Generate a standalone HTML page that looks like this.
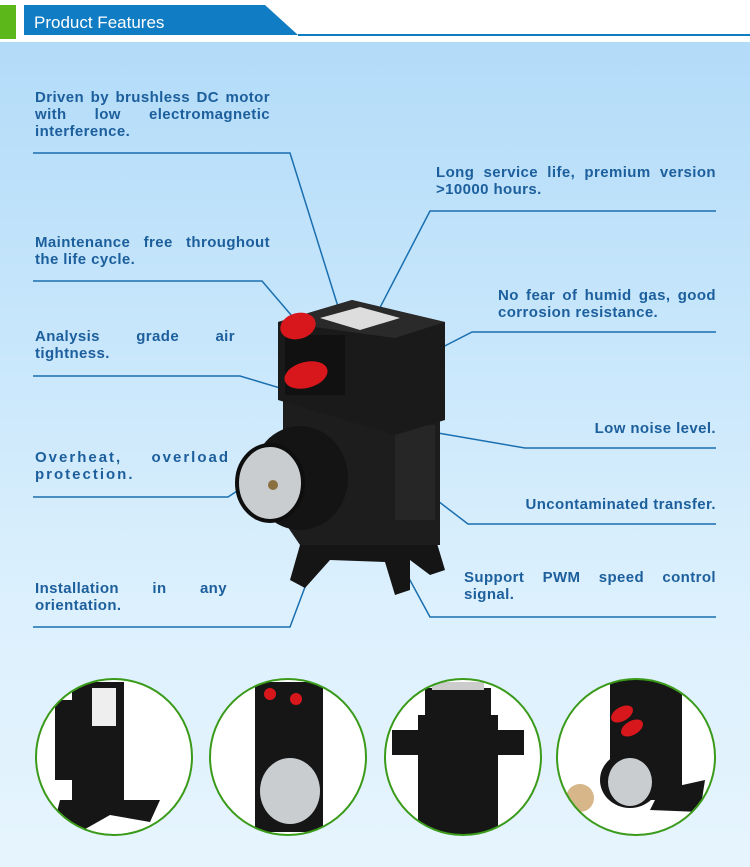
<!DOCTYPE html>
<html><head><meta charset="utf-8"><style>
body{margin:0;width:750px;height:867px;overflow:hidden;position:relative;font-family:"Liberation Sans",sans-serif;
background:linear-gradient(180deg,#b0daf8 0px,#c5e5fb 300px,#dcf0fd 600px,#e6f4fd 867px);}
.t{position:absolute;color:#1c5f9c;font-weight:bold;font-size:15px;line-height:17px;letter-spacing:0.4px;text-align:justify;text-align-last:left}
.r{text-align:right;text-align-last:right}
svg{position:absolute;left:0;top:0}
</style></head><body>
<svg width="750" height="867">
<defs>
<clipPath id="c1"><ellipse cx="114" cy="757" rx="78" ry="78"/></clipPath>
<clipPath id="c2"><ellipse cx="288" cy="757" rx="78" ry="78"/></clipPath>
<clipPath id="c3"><ellipse cx="463" cy="757" rx="78" ry="78"/></clipPath>
<clipPath id="c4"><ellipse cx="636" cy="757" rx="79" ry="78"/></clipPath>
</defs>
<rect x="0" y="0" width="750" height="42" fill="#fff"/>
<rect x="0" y="5" width="16" height="34" fill="#5cb81a"/>
<polygon points="24,5 265,5 298,35 24,35" fill="#0f7cc4"/>
<line x1="298" y1="35" x2="750" y2="35" stroke="#0f7cc4" stroke-width="2"/>
<g stroke="#1a6fb0" stroke-width="1.5" fill="none">
<polyline points="33,153 290,153 340,313"/>
<polyline points="33,281 262,281 315,343"/>
<polyline points="33,376 240,376 310,397"/>
<polyline points="33,497 228,497 310,443"/>
<polyline points="33,627 290,627 332,515"/>
<polyline points="716,211 430,211 372,323"/>
<polyline points="716,332 472,332 398,370"/>
<polyline points="716,448 525,448 403,427"/>
<polyline points="716,524 468,524 400,472"/>
<polyline points="716,617 430,617 380,525"/>
</g>
<g>
<polygon points="300,545 290,580 305,588 330,560 385,562 395,595 410,590 410,560 430,575 445,570 430,520" fill="#151515"/>
<polygon points="283,395 440,395 440,545 300,545 283,520" fill="#1d1d1d"/>
<rect x="395" y="425" width="40" height="95" fill="#262626"/>
<polygon points="278,322 352,300 445,322 445,420 395,435 278,400" fill="#1a1a1a"/>
<polygon points="278,322 352,300 445,322 395,338" fill="#2a2a2a"/>
<polygon points="320,318 360,307 400,318 360,330" fill="#ddd"/>
<rect x="285" y="335" width="60" height="60" fill="#111"/>
<ellipse cx="298" cy="326" rx="18" ry="13" fill="#d8171d" transform="rotate(-15 298 326)"/>
<ellipse cx="306" cy="375" rx="22" ry="13" fill="#d8171d" transform="rotate(-15 306 375)"/>
<ellipse cx="300" cy="478" rx="48" ry="52" fill="#141414"/>
<ellipse cx="270" cy="483" rx="33" ry="38" fill="#c9cdd0" stroke="#0e0e0e" stroke-width="4"/>
<circle cx="273" cy="485" r="5" fill="#8a7040"/>
</g>
<g fill="#fff">
<ellipse cx="114" cy="757" rx="78" ry="78"/>
<ellipse cx="288" cy="757" rx="78" ry="78"/>
<ellipse cx="463" cy="757" rx="78" ry="78"/>
<ellipse cx="636" cy="757" rx="79" ry="78"/>
</g>
<g fill="#161616" clip-path="url(#c1)">
<rect x="72" y="682" width="52" height="120"/><rect x="55" y="700" width="30" height="80"/><polygon points="60,800 160,800 150,822 110,815 80,832 55,820"/>
<rect x="92" y="688" width="24" height="38" fill="#eee"/>
</g>
<g clip-path="url(#c2)">
<rect x="255" y="682" width="68" height="150" fill="#161616"/>
<ellipse cx="290" cy="791" rx="30" ry="33" fill="#c9cdd0"/>
<circle cx="270" cy="694" r="6" fill="#d8171d"/><circle cx="296" cy="699" r="6" fill="#d8171d"/>
</g>
<g fill="#161616" clip-path="url(#c3)">
<rect x="418" y="715" width="80" height="120"/><rect x="392" y="730" width="132" height="25"/><rect x="425" y="688" width="66" height="35"/>
<rect x="432" y="682" width="52" height="8" fill="#ccc"/>
</g>
<g clip-path="url(#c4)">
<g fill="#161616"><rect x="610" y="680" width="72" height="120"/><ellipse cx="630" cy="780" rx="30" ry="28"/><polygon points="660,790 705,780 700,812 650,810"/></g>
<ellipse cx="630" cy="782" rx="22" ry="24" fill="#c9cdd0"/>
<ellipse cx="580" cy="798" rx="14" ry="14" fill="#d7b78a"/>
<ellipse cx="622" cy="714" rx="12" ry="7" fill="#d8171d" transform="rotate(-30 622 714)"/>
<ellipse cx="632" cy="728" rx="12" ry="7" fill="#d8171d" transform="rotate(-30 632 728)"/>
</g>
<g fill="none" stroke="#3a9a1a" stroke-width="2">
<ellipse cx="114" cy="757" rx="78" ry="78"/>
<ellipse cx="288" cy="757" rx="78" ry="78"/>
<ellipse cx="463" cy="757" rx="78" ry="78"/>
<ellipse cx="636" cy="757" rx="79" ry="78"/>
</g>
</svg>
<div style="position:absolute;left:34px;top:13px;color:#fff;font-size:17px">Product Features</div>
<div class="t" style="left:35px;top:89px;width:235px">Driven by brushless DC motor with low electromagnetic interference.</div>
<div class="t" style="left:35px;top:234px;width:235px">Maintenance free throughout the life cycle.</div>
<div class="t" style="left:35px;top:328px;width:200px">Analysis grade air tightness.</div>
<div class="t" style="left:35px;top:449px;width:195px;letter-spacing:2px">Overheat, overload protection.</div>
<div class="t" style="left:35px;top:580px;width:192px">Installation in any orientation.</div>
<div class="t" style="left:436px;top:164px;width:280px">Long service life, premium version &gt;10000 hours.</div>
<div class="t" style="left:498px;top:287px;width:218px">No fear of humid gas, good corrosion resistance.</div>
<div class="t r" style="left:520px;top:420px;width:196px">Low noise level.</div>
<div class="t r" style="left:480px;top:496px;width:236px">Uncontaminated transfer.</div>
<div class="t" style="left:464px;top:569px;width:252px">Support PWM speed control signal.</div>
</body></html>
